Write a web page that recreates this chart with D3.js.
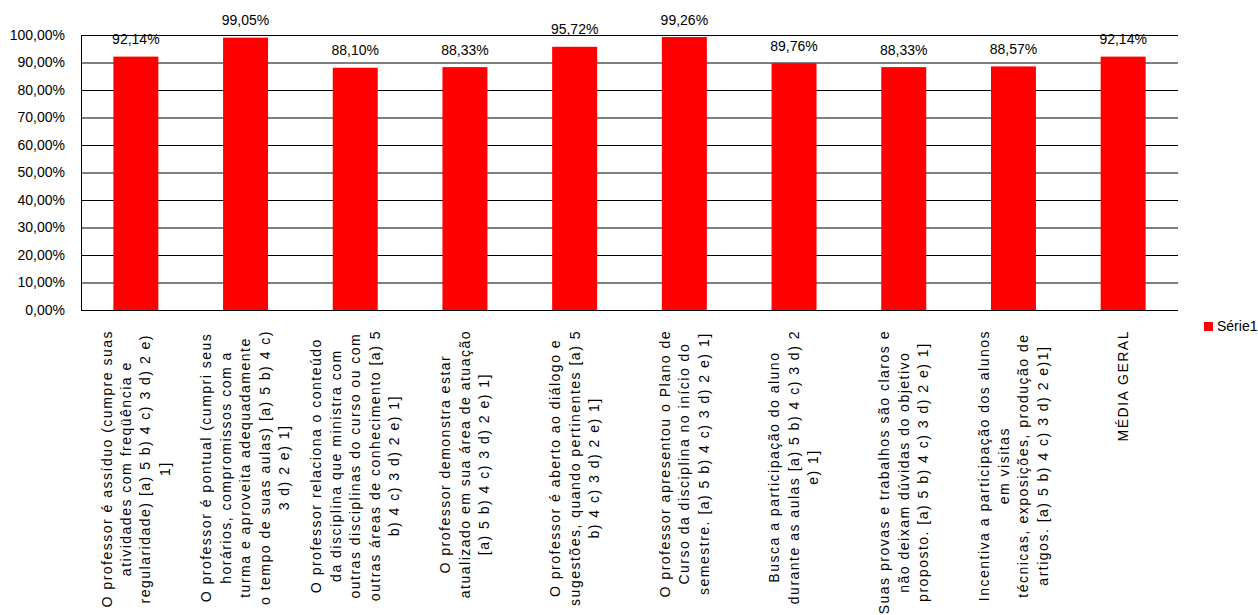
<!DOCTYPE html>
<html><head><meta charset="utf-8">
<script src="https://cdn.jsdelivr.net/npm/d3@7"></script>
<style>
body{margin:0;background:#fff}
svg{display:block}
text{font-family:"Liberation Sans",Arial,sans-serif;fill:#000}
</style>
</head><body>
<svg id="c" width="1258" height="615"></svg>
<script>
const categories = [
  "O professor é assíduo (cumpre suas\natividades com freqüência e\nregularidade) [a) 5 b) 4 c) 3 d) 2 e)\n1]",
  "O professor é pontual (cumpri seus\nhorários, compromissos com a\nturma e aproveita adequadamente\no tempo de suas aulas) [a) 5 b) 4 c)\n3 d) 2 e) 1]",
  "O professor relaciona o conteúdo\nda disciplina que ministra com\noutras disciplinas do curso ou com\noutras áreas de conhecimento [a) 5\nb) 4 c) 3 d) 2 e) 1]",
  "O professor demonstra estar\natualizado em sua área de atuação\n[a) 5 b) 4 c) 3 d) 2 e) 1]",
  "O professor é aberto ao diálogo e\nsugestões, quando pertinentes [a) 5\nb) 4 c) 3 d) 2 e) 1]",
  "O professor apresentou o Plano de\nCurso da disciplina no início do\nsemestre. [a) 5 b) 4 c) 3 d) 2 e) 1]",
  "Busca a participação do aluno\ndurante as aulas [a) 5 b) 4 c) 3 d) 2\ne) 1]",
  "Suas provas e trabalhos são claros e\nnão deixam dúvidas do objetivo\nproposto. [a) 5 b) 4 c) 3 d) 2 e) 1]",
  "Incentiva a participação dos alunos\nem visitas\ntécnicas, exposições, produção de\nartigos. [a) 5 b) 4 c) 3 d) 2 e)1]",
  "MÉDIA GERAL"
];
const values = [0.9214, 0.9905, 0.8810, 0.8833, 0.9572, 0.9926, 0.8976, 0.8833, 0.8857, 0.9214];
const yTicks = [0, 0.1, 0.2, 0.3, 0.4, 0.5, 0.6, 0.7, 0.8, 0.9, 1.0];
const seriesName = "Série1";

const loc = d3.formatLocale({decimal: ",", thousands: ".", grouping: [3], currency: ["", ""], percent: "%"});
const fmt = loc.format(".2%");

const L = 81, R = 1178, T = 35, B = 310;
const svg = d3.select("#c");

const x = d3.scaleBand().domain(d3.range(categories.length)).range([L, R])
  .paddingInner(0.59).paddingOuter(0.295);
const y = d3.scaleLinear().domain([0, 1]).range([B, T]);

// y axis with gridlines
const yAxis = svg.append("g").attr("transform", `translate(${L},0)`)
  .call(d3.axisLeft(y).tickValues(yTicks).tickFormat(fmt)
    .tickSize(-(R - L)).tickSizeOuter(0).tickPadding(16));
yAxis.selectAll(".tick line").attr("stroke", "#000").attr("stroke-width", 1);
yAxis.select(".domain").attr("stroke", "#000");
yAxis.selectAll(".tick text").style("font-size", "14px").attr("fill", "#000");

// bars
svg.append("g").selectAll("rect").data(values).join("rect")
  .attr("x", (d, i) => x(i))
  .attr("width", x.bandwidth())
  .attr("y", d => y(d))
  .attr("height", d => y(0) - y(d) + 1)
  .attr("fill", "#ff0000");

// baseline
svg.append("line").attr("x1", L).attr("x2", R).attr("y1", y(0) + 0.5).attr("y2", y(0) + 0.5)
  .attr("stroke", "#000").attr("stroke-width", 1);

// data labels
svg.append("g").selectAll("text").data(values).join("text")
  .attr("x", (d, i) => x(i) + x.bandwidth() / 2)
  .attr("y", d => y(d) - 12.5)
  .attr("text-anchor", "middle")
  .style("font-size", "14px")
  .text(d => fmt(d));

// category labels (rotated)
const fs = 14, lineH = 19.5, topY = 330;
categories.forEach((c, i) => {
  const lines = c.split("\n");
  const g = svg.append("g")
    .attr("transform", `translate(${x(i) + x.bandwidth() / 2},${topY}) rotate(-90)`);
  const texts = lines.map((ln, j) => g.append("text")
    .style("font-size", fs + "px")
    .style("letter-spacing", "1.5px")
    .attr("text-anchor", "middle")
    .attr("y", (j - (lines.length - 1) / 2) * lineH + 0.35 * fs)
    .text(ln));
  const maxLen = d3.max(texts, t => t.node().getComputedTextLength());
  texts.forEach(t => t.attr("x", -maxLen / 2));
});

// legend
svg.append("rect").attr("x", 1204).attr("y", 322).attr("width", 9).attr("height", 9).attr("fill", "#ff0000");
svg.append("text").attr("x", 1217).attr("y", 331).style("font-size", "14px").text(seriesName);
</script>
</body></html>
